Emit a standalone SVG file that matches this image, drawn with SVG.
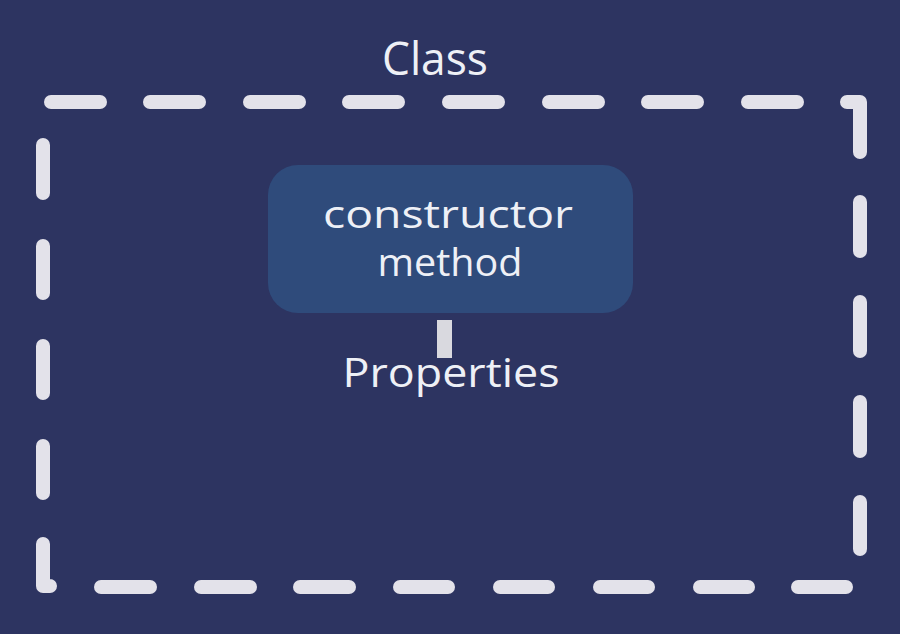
<svg xmlns="http://www.w3.org/2000/svg" width="900" height="634" viewBox="0 0 900 634">
<style>
.dash{stroke:#e3e2ea;stroke-width:14;stroke-linecap:round;stroke-linejoin:round;fill:none}
.t{font-family:"Open Sans","Liberation Sans",sans-serif;fill:#eef0f6;text-anchor:middle}
</style>
<rect width="900" height="634" fill="#2d3461"/>
<g id="class-frame">
<g class="dash">
<line x1="51" y1="102" x2="100" y2="102"/>
<line x1="150" y1="102" x2="199" y2="102"/>
<line x1="250" y1="102" x2="299" y2="102"/>
<line x1="349" y1="102" x2="398" y2="102"/>
<line x1="449" y1="102" x2="498" y2="102"/>
<line x1="549" y1="102" x2="598" y2="102"/>
<line x1="648" y1="102" x2="697" y2="102"/>
<line x1="748" y1="102" x2="797" y2="102"/>
<path d="M847,102 H860 V152"/>
<line x1="860" y1="202" x2="860" y2="251"/>
<line x1="860" y1="302" x2="860" y2="351"/>
<line x1="860" y1="402" x2="860" y2="451"/>
<line x1="860" y1="502" x2="860" y2="549"/>
<line x1="798" y1="587" x2="846" y2="587"/>
<line x1="700" y1="587" x2="748" y2="587"/>
<line x1="600" y1="587" x2="648" y2="587"/>
<line x1="500" y1="587" x2="548" y2="587"/>
<line x1="400" y1="587" x2="448" y2="587"/>
<line x1="300" y1="587" x2="349" y2="587"/>
<line x1="201" y1="587" x2="250" y2="587"/>
<line x1="101" y1="587" x2="150" y2="587"/>
<path d="M43,544 V586 H50"/>
<line x1="43" y1="446" x2="43" y2="493"/>
<line x1="43" y1="346" x2="43" y2="393"/>
<line x1="43" y1="246" x2="43" y2="293"/>
<line x1="43" y1="145" x2="43" y2="193"/>
</g>
<text class="t" x="435" y="75" font-size="45" textLength="106" lengthAdjust="spacingAndGlyphs">Class</text>
</g>
<g id="constructor-method">
<rect x="268" y="165" width="365" height="148" rx="30" fill="#2f4b7b"/>
<text class="t" x="448" y="228" font-size="39" textLength="250" lengthAdjust="spacingAndGlyphs">constructor</text>
<text class="t" x="450" y="276" font-size="39" textLength="145" lengthAdjust="spacingAndGlyphs">method</text>
</g>
<g id="connectors">
<rect x="437" y="320" width="15" height="38" fill="#d9d9df"/>
</g>
<g id="properties">
<text class="t" x="451" y="387" font-size="40" textLength="217" lengthAdjust="spacingAndGlyphs">Properties</text>
</g>
</svg>
